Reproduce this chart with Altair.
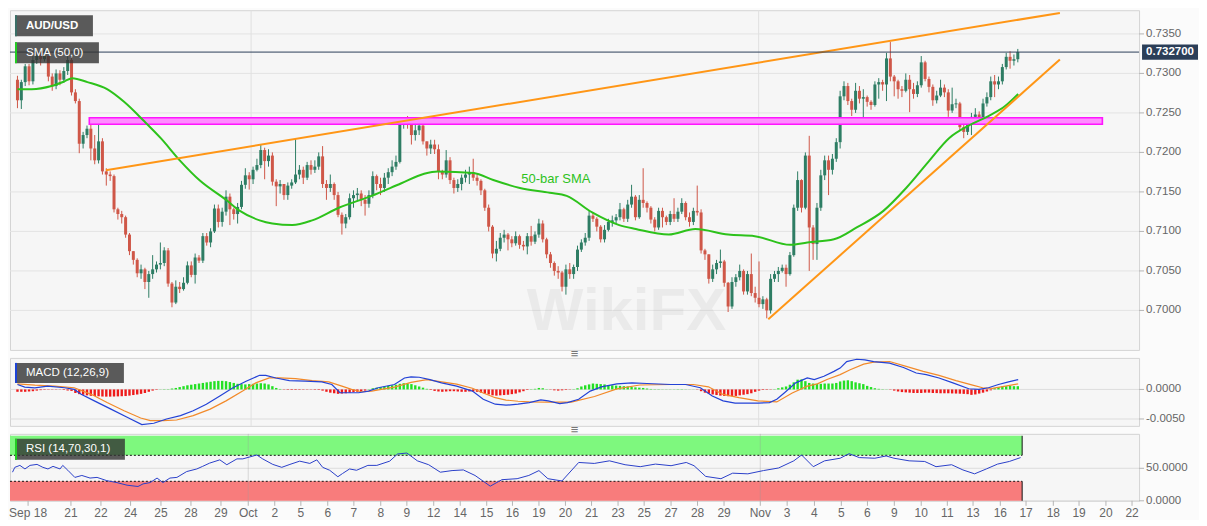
import altair as alt
import pandas as pd

# ---------------- data ----------------
OPEN0 = 0.7292
close = [
    0.7266, 0.7289, 0.7309, 0.7290, 0.7317, 0.7323, 0.7318, 0.7322, 0.7296, 0.7284,
    0.7300, 0.7292, 0.7303, 0.7317, 0.7276, 0.7265, 0.7211, 0.7222, 0.7230, 0.7205,
    0.7190, 0.7214, 0.7176, 0.7172, 0.7170, 0.7128, 0.7122, 0.7118, 0.7096, 0.7075,
    0.7064, 0.7047, 0.7052, 0.7036, 0.7046, 0.7052, 0.7058, 0.7060, 0.7076, 0.7034,
    0.7010, 0.7030, 0.7027, 0.7035, 0.7057, 0.7045, 0.7067, 0.7063, 0.7094, 0.7086,
    0.7100, 0.7129, 0.7112, 0.7125, 0.7144, 0.7128, 0.7122, 0.7131, 0.7159, 0.7171,
    0.7166, 0.7178, 0.7184, 0.7203, 0.7189, 0.7196, 0.7163, 0.7157, 0.7160, 0.7146,
    0.7158, 0.7162, 0.7172, 0.7178, 0.7168, 0.7184, 0.7178, 0.7182, 0.7195, 0.7160,
    0.7155, 0.7160, 0.7146, 0.7121, 0.7110, 0.7118, 0.7142, 0.7146, 0.7148, 0.7140,
    0.7135, 0.7146, 0.7170, 0.7160, 0.7155, 0.7168, 0.7175, 0.7182, 0.7188, 0.7238,
    0.7242, 0.7236, 0.7222, 0.7228, 0.7234, 0.7214, 0.7205, 0.7210, 0.7204, 0.7176,
    0.7172, 0.7190, 0.7165, 0.7155, 0.7160, 0.7168, 0.7172, 0.7175, 0.7168, 0.7164,
    0.7152, 0.7130, 0.7106, 0.7072, 0.7078, 0.7092, 0.7096, 0.7090, 0.7085, 0.7094,
    0.7083, 0.7081, 0.7094, 0.7087, 0.7096, 0.7110, 0.7090, 0.7071, 0.7060, 0.7050,
    0.7048, 0.7030, 0.7052, 0.7046, 0.7055, 0.7077, 0.7086, 0.7092, 0.7120, 0.7116,
    0.7106, 0.7090, 0.7102, 0.7112, 0.7114, 0.7118, 0.7128, 0.7116, 0.7134, 0.7144,
    0.7118, 0.7140, 0.7136, 0.7130, 0.7115, 0.7105, 0.7126, 0.7118, 0.7112, 0.7122,
    0.7116, 0.7125, 0.7136, 0.7118, 0.7112, 0.7126, 0.7124, 0.7076, 0.7071, 0.7040,
    0.7052, 0.7060, 0.7062, 0.7035, 0.7005, 0.7036, 0.7042, 0.7050, 0.7024, 0.7046,
    0.7022, 0.7016, 0.7008, 0.7014, 0.7000, 0.7040, 0.7046, 0.7050, 0.7054, 0.7046,
    0.7070, 0.7130, 0.7165, 0.7130, 0.7196, 0.7105, 0.7084, 0.7130, 0.7171, 0.7190,
    0.7178, 0.7192, 0.7213, 0.7271, 0.7284, 0.7265, 0.7254, 0.7278, 0.7268, 0.7270,
    0.7264, 0.7260, 0.7286, 0.7289, 0.7286, 0.7319, 0.7296, 0.7290, 0.7280, 0.7278,
    0.7292, 0.7280, 0.7274, 0.7285, 0.7314, 0.7293, 0.7283, 0.7266, 0.7272, 0.7282,
    0.7276, 0.7253, 0.7261, 0.7262, 0.7232, 0.7226, 0.7236, 0.7245, 0.7248, 0.7244,
    0.7262, 0.7270, 0.7290, 0.7286, 0.7290, 0.7308, 0.7321, 0.7316, 0.7318, 0.7327,
]
high = [
    0.7297, 0.7292, 0.7312, 0.7312, 0.7322, 0.7330, 0.7328, 0.7330, 0.7322, 0.7300,
    0.7305, 0.7304, 0.7308, 0.7322, 0.7320, 0.7280, 0.7268, 0.7226, 0.7234, 0.7238,
    0.7222, 0.7236, 0.7218, 0.7180, 0.7176, 0.7172, 0.7130, 0.7126, 0.7120, 0.7098,
    0.7074, 0.7066, 0.7058, 0.7054, 0.7050, 0.7070, 0.7062, 0.7086, 0.7080, 0.7079,
    0.7036, 0.7038, 0.7036, 0.7042, 0.7062, 0.7062, 0.7072, 0.7070, 0.7098, 0.7098,
    0.7104, 0.7134, 0.7134, 0.7130, 0.7152, 0.7148, 0.7130, 0.7136, 0.7164, 0.7180,
    0.7175, 0.7182, 0.7192, 0.7210, 0.7206, 0.7204, 0.7200, 0.7166, 0.7165, 0.7160,
    0.7162, 0.7166, 0.7217, 0.7184, 0.7182, 0.7188, 0.7190, 0.7190, 0.7200, 0.7208,
    0.7165, 0.7172, 0.7162, 0.7150, 0.7124, 0.7122, 0.7148, 0.7152, 0.7155, 0.7152,
    0.7146, 0.7152, 0.7176, 0.7172, 0.7168, 0.7174, 0.7180, 0.7190, 0.7196, 0.7242,
    0.7244, 0.7246, 0.7240, 0.7236, 0.7242, 0.7236, 0.7214, 0.7216, 0.7216, 0.7210,
    0.7178, 0.7203, 0.7194, 0.7168, 0.7166, 0.7172, 0.7178, 0.7182, 0.7192, 0.7172,
    0.7166, 0.7154, 0.7134, 0.7108, 0.7088, 0.7098, 0.7102, 0.7098, 0.7094, 0.7100,
    0.7096, 0.7088, 0.7098, 0.7107, 0.7100, 0.7116, 0.7114, 0.7092, 0.7074, 0.7062,
    0.7056, 0.7050, 0.7058, 0.7060, 0.7058, 0.7082, 0.7090, 0.7098, 0.7126, 0.7124,
    0.7118, 0.7108, 0.7108, 0.7116, 0.7120, 0.7122, 0.7136, 0.7130, 0.7140, 0.7159,
    0.7146, 0.7146, 0.7180, 0.7138, 0.7132, 0.7118, 0.7130, 0.7130, 0.7120, 0.7126,
    0.7142, 0.7130, 0.7142, 0.7138, 0.7124, 0.7130, 0.7158, 0.7128, 0.7078, 0.7068,
    0.7058, 0.7064, 0.7077, 0.7064, 0.7036, 0.7042, 0.7046, 0.7058, 0.7052, 0.7050,
    0.7072, 0.7030, 0.7062, 0.7018, 0.7016, 0.7046, 0.7050, 0.7055, 0.7058, 0.7058,
    0.7074, 0.7134, 0.7176, 0.7166, 0.7200, 0.7221, 0.7108, 0.7136, 0.7178, 0.7196,
    0.7196, 0.7198, 0.7218, 0.7278, 0.7290, 0.7288, 0.7268, 0.7288, 0.7284, 0.7280,
    0.7272, 0.7266, 0.7290, 0.7294, 0.7292, 0.7326, 0.7340, 0.7298, 0.7292, 0.7284,
    0.7300, 0.7298, 0.7288, 0.7290, 0.7322, 0.7316, 0.7296, 0.7286, 0.7278, 0.7292,
    0.7286, 0.7280, 0.7282, 0.7268, 0.7264, 0.7236, 0.7240, 0.7250, 0.7256, 0.7252,
    0.7268, 0.7276, 0.7296, 0.7298, 0.7296, 0.7312, 0.7326, 0.7328, 0.7324, 0.7331,
]
low = [
    0.7256, 0.7255, 0.7284, 0.7285, 0.7286, 0.7312, 0.7310, 0.7315, 0.7290, 0.7278,
    0.7280, 0.7285, 0.7288, 0.7298, 0.7272, 0.7262, 0.7199, 0.7205, 0.7218, 0.7190,
    0.7185, 0.7186, 0.7172, 0.7158, 0.7164, 0.7124, 0.7115, 0.7110, 0.7092, 0.7070,
    0.7058, 0.7042, 0.7040, 0.7027, 0.7016, 0.7040, 0.7048, 0.7052, 0.7056, 0.7030,
    0.7004, 0.7008, 0.7022, 0.7025, 0.7033, 0.7042, 0.7034, 0.7060, 0.7060, 0.7082,
    0.7080, 0.7098, 0.7105, 0.7106, 0.7120, 0.7108, 0.7115, 0.7110, 0.7128, 0.7154,
    0.7153, 0.7160, 0.7176, 0.7180, 0.7166, 0.7182, 0.7158, 0.7132, 0.7148, 0.7140,
    0.7140, 0.7154, 0.7160, 0.7166, 0.7160, 0.7165, 0.7172, 0.7174, 0.7178, 0.7155,
    0.7140, 0.7150, 0.7140, 0.7118, 0.7096, 0.7104, 0.7115, 0.7130, 0.7138, 0.7132,
    0.7120, 0.7130, 0.7142, 0.7152, 0.7146, 0.7150, 0.7160, 0.7170, 0.7178, 0.7186,
    0.7230, 0.7230, 0.7210, 0.7215, 0.7222, 0.7210, 0.7196, 0.7198, 0.7198, 0.7166,
    0.7166, 0.7168, 0.7160, 0.7148, 0.7150, 0.7152, 0.7162, 0.7160, 0.7164, 0.7158,
    0.7146, 0.7126, 0.7100, 0.7066, 0.7062, 0.7075, 0.7086, 0.7076, 0.7080, 0.7082,
    0.7078, 0.7076, 0.7071, 0.7082, 0.7084, 0.7092, 0.7086, 0.7066, 0.7054, 0.7044,
    0.7040, 0.7024, 0.7020, 0.7040, 0.7040, 0.7050, 0.7074, 0.7082, 0.7088, 0.7112,
    0.7100, 0.7086, 0.7086, 0.7100, 0.7106, 0.7110, 0.7114, 0.7112, 0.7112, 0.7130,
    0.7114, 0.7116, 0.7130, 0.7124, 0.7110, 0.7100, 0.7102, 0.7105, 0.7108, 0.7108,
    0.7112, 0.7112, 0.7122, 0.7114, 0.7106, 0.7108, 0.7120, 0.7072, 0.7064, 0.7034,
    0.7036, 0.7046, 0.7054, 0.7030, 0.6998, 0.7002, 0.7030, 0.7038, 0.7020, 0.7020,
    0.7018, 0.7010, 0.7004, 0.7002, 0.6990, 0.6996, 0.7036, 0.7036, 0.7048, 0.7030,
    0.7044, 0.7068, 0.7126, 0.7124, 0.7128, 0.7050, 0.7064, 0.7064, 0.7126, 0.7165,
    0.7146, 0.7172, 0.7188, 0.7205, 0.7266, 0.7260, 0.7246, 0.7250, 0.7262, 0.7240,
    0.7258, 0.7254, 0.7258, 0.7268, 0.7278, 0.7265, 0.7290, 0.7271, 0.7268, 0.7270,
    0.7276, 0.7251, 0.7268, 0.7270, 0.7282, 0.7290, 0.7276, 0.7259, 0.7262, 0.7270,
    0.7270, 0.7245, 0.7250, 0.7256, 0.7228, 0.7218, 0.7222, 0.7222, 0.7240, 0.7238,
    0.7240, 0.7258, 0.7266, 0.7270, 0.7280, 0.7286, 0.7305, 0.7306, 0.7310, 0.7314,
]

# 50-bar SMA (bar index, price)
sma_i = [0, 3.7, 8.8, 12.2, 14.2, 18.1, 23.2, 27.6, 32.7, 37.1, 42.2, 47.3, 54.0, 57.6, 62.7,
         66.0, 71.2, 76.3, 83.2, 91.7, 99.4, 105.3, 108.8, 118.1, 123.2, 130.1, 137.8, 142.2,
         148.8, 155.8, 160.1, 168.6, 175.5, 184.0, 190.9, 200.1, 204.5, 211.4, 217.3, 224.2,
         230.1, 236.0, 241.2, 246.3, 251.4, 255.8, 259.1]
sma_p = [0.7280, 0.7280, 0.7284, 0.7290, 0.7294, 0.7289, 0.7280, 0.7264, 0.7240, 0.7218,
         0.7189, 0.7164, 0.7140, 0.7126, 0.7114, 0.7110, 0.7108, 0.7114, 0.7130, 0.7145,
         0.7161, 0.7173, 0.7176, 0.7174, 0.7165, 0.7155, 0.7149, 0.7145, 0.7124, 0.7108,
         0.7103, 0.7096, 0.7103, 0.7096, 0.7094, 0.7083, 0.7086, 0.7090, 0.7105, 0.7126,
         0.7155, 0.7189, 0.7218, 0.7234, 0.7246, 0.7259, 0.7274]
sma_label = "50-bar SMA"
sma_label_i, sma_label_p = 139.4, 0.7166

# trend lines (start / end)
trend_name = ["resistance", "support"]
trend_i0 = [22.9, 194.4]
trend_p0 = [0.71775, 0.69888]
trend_i1 = [269.9, 269.9]
trend_p1 = [0.73766, 0.73175]

# horizontal zone
zone_i = [18.6, 280.9]
zone_p = [0.72356, 0.72438]

last_price = 0.7327
price_ticks = [0.7000, 0.7050, 0.7100, 0.7150, 0.7200, 0.7250, 0.7300, 0.7350]
macd_ticks = [0.0, -0.005]
rsi_ticks = [0.0, 50.0]

# MACD histogram per bar (x 1e-5)
hist_e5 = [
    -40, -40, -40, -35, -30, -20, -12, -8, -6, -5,
    -5, -4, -10, -18, -25, -60, -80, -90, -100, -108,
    -112, -116, -120, -122, -122, -120, -118, -115, -112, -105,
    -95, -85, -75, -60, -40, -20, -8, 3, 5, 5,
    15, 25, 40, 55, 70, 80, 90, 100, 110, 120,
    130, 140, 145, 145, 140, 125, 110, 95, 90, 85,
    90, 95, 100, 105, 100, 85, 55, 25, 8, -5,
    -8, -10, -10, -8, -6, -5, -5, -8, -10, -20,
    -40, -55, -65, -75, -70, -65, -55, -45, -40, -30,
    -20, 5, 20, 30, 40, 50, 60, 70, 80, 95,
    105, 100, 90, 70, 50, 30, 10, -10, -25, -35,
    -40, -35, -30, -30, -35, -40, -40, -35, -35, -40,
    -55, -70, -85, -100, -105, -100, -95, -90, -80, -70,
    -50, -30, -10, 5, 10, 25, 20, 5, -5, -15,
    -20, -15, -10, -5, 5, 20, 50, 70, 85, 100,
    95, 90, 85, 75, 70, 65, 60, 55, 50, 40,
    35, 30, 25, 15, 8, 5, 5, 3, 3, 3,
    3, 5, 5, 3, 2, 2, -5, -30, -55, -70,
    -85, -95, -105, -110, -115, -115, -110, -100, -90, -80,
    -65, -40, -20, -10, -8, -5, 5, 20, 35, 50,
    80, 120, 165, 170, 140, 110, 100, 95, 95, 100,
    100, 100, 110, 135, 150, 155, 140, 120, 105, 90,
    60, 40, 20, 10, 5, 3, -5, -20, -35, -45,
    -50, -55, -60, -60, -60, -55, -55, -60, -62, -65,
    -65, -65, -68, -70, -72, -75, -80, -92, -85, -70,
    -55, -35, -15, 20, 40, 50, 55, 58, 55, 55,
]
macd_i = [0, 1.9, 4.5, 7.8, 12.2, 14.7, 16.5, 19.9, 24.2, 28.4, 32.2, 35.3, 38.6, 42.2, 45.5,
          48.9, 52.4, 55.8, 59.2, 62.7, 64.3, 66.9, 70.4, 74.5, 78.8, 81.4, 83.5, 85.8, 88.3,
          90.9, 93.4, 97.6, 100.2, 101.9, 104, 106.8, 109.8, 113.7, 117.8, 120.6, 123.7, 126.5,
          129.6, 132.5, 135.5, 137.4, 140.4, 142.4, 145.3, 148.3, 151.2, 155.2, 159.1, 163,
          169.1, 173, 176.8, 179.9, 182.7, 185.8, 188.7, 191.7, 194.7, 196.6, 198.6, 201.5,
          204.5, 206.3, 208.8, 211.4, 213, 214.7, 217.3, 219.4, 221.7, 225.8, 229.4, 232.7,
          235.3, 238.6, 242.2, 246.3, 248.9, 251.4, 254, 256.6, 259.1]
macd_e5 = [83, 39, 28, 56, 28, 0, -83, -194, -333, -472, -594, -572, -500, -444, -361,
           -250, -111, 28, 139, 239, 239, 194, 150, 139, 128, 83, -56, -56, -56,
           -28, 28, 83, 194, 211, 206, 167, 111, 56, -28, -167, -250, -267,
           -250, -222, -178, -194, -239, -222, -167, -28, 44, 94, 111, 100,
           83, 83, 28, -111, -194, -233, -233, -233, -222, -167, -56, 111,
           194, 167, 222, 306, 361, 472, 511, 500, 472, 444, 372, 278,
           250, 194, 111, 11, 0, 28, 83, 128, 167]
sig_i = [0, 4.5, 9.6, 14.7, 19.1, 23.2, 27.6, 31.9, 34.4, 37.8, 41.2, 45.5, 49.9, 54, 58.3,
         61.7, 65.2, 67.8, 72, 76.3, 80.6, 84, 86.5, 89.1, 91.7, 94.2, 97.6, 101.9, 106,
         113.7, 117.8, 120.6, 123.7, 126.5, 129.6, 132.5, 137.4, 143.4, 149.4, 155.2, 161.1,
         169.1, 175, 178.9, 182.7, 186.8, 191.7, 196.6, 200.6, 204.5, 207.1, 209.6, 213,
         215.6, 219.1, 221.7, 225.8, 230.1, 234.5, 238.6, 243, 247.3, 249.9, 252.4, 255.8, 259.1]
sig_e5 = [94, 72, 56, 28, -83, -222, -361, -483, -528, -528, -517, -444, -333, -194, -28,
          111, 194, 194, 183, 150, 128, 56, 0, -39, -28, 0, 39, 120, 165,
          90, 20, -60, -140, -180, -200, -212, -215, -215, -120, 10, 75,
          83, 83, 44, -85, -140, -194, -211, -60, 56, 94, 167, 250,
          333, 428, 461, 472, 389, 306, 239, 150, 72, 28, 17, 56, 94]

# RSI
rsi_i = [0, 0.6, 1.9, 3.2, 4.5, 6.3, 7.8, 9.1, 10.4, 12.2, 12.9, 14.2, 16, 17.8, 19.9, 21.7,
         24.2, 26.8, 29.4, 32.2, 33.5, 35.3, 37.1, 38.6, 40.4, 42.2, 44.7, 47.3, 48.8, 50.6,
         53.2, 55, 57.6, 59.1, 62.7, 64.2, 66.8, 69.1, 71.2, 73.7, 76.3, 78.1, 79.6, 81.4,
         83.5, 84.7, 86.5, 88.3, 91.2, 93.5, 96.8, 98.8, 101.2, 103.9, 106.8, 109.8, 112.8,
         115.7, 118.7, 122.6, 125.6, 129.5, 132.5, 135.1, 137.4, 141, 145.3, 149.3, 153.2,
         157.2, 161.1, 165, 169, 172.9, 174.9, 177.9, 181.8, 184.8, 188.7, 192.7, 196.6,
         200.5, 202.5, 205.5, 208.4, 212.4, 214.7, 217.3, 221.3, 224.2, 226.2, 230.1, 234.1,
         237, 241, 243.9, 246.9, 249.9, 252.8, 255.8, 258.7]
rsi_v = [44, 51.5, 54.5, 49, 54.5, 56, 51.5, 49, 53, 49, 54.5, 47, 36, 39, 35, 36,
         31, 28, 24, 22, 26, 28, 35, 28, 35, 36, 45, 49, 53, 58,
         63, 55.5, 64.5, 64.5, 70.5, 64.5, 56, 51.5, 56, 61, 57.5, 63, 51.5, 47,
         37, 42, 49, 47, 54.5, 54.5, 61, 72, 73.5, 61.5, 55.5, 44, 46.5,
         47.5, 39, 22.5, 32.5, 34, 39, 46.5, 34, 30.5, 59, 57.5, 61.5,
         55.5, 52.5, 56.5, 54, 59, 54, 37.5, 34, 42.5, 41.5, 46.5, 50.5,
         61.5, 70.5, 52.5, 61.5, 65.5, 72.5, 66.5, 65.5, 69, 65.5, 61.5, 60.5,
         52.5, 55.5, 47.5, 41.5, 49, 56.5, 60.5, 66.5]

# x axis (bar index of each tick, label)
tick_pos = [4.0, 15.0, 22.7, 30.3, 38.1, 45.8, 53.5, 60.5, 67.3, 74.0, 80.9, 87.6, 94.5,
            101.2, 108.1, 114.9, 121.7, 128.3, 135.1, 141.9, 148.6, 155.4, 162.1, 169.0,
            175.8, 182.6, 191.9, 198.8, 205.8, 212.7, 219.4, 226.3, 233.2, 239.9, 246.5,
            253.5, 260.1, 267.1, 273.7, 280.6, 287.3]
tick_lab = ["Sep 18", "21", "22", "24", "25", "28", "29", "Oct", "2", "5", "6", "7", "8",
            "9", "12", "14", "15", "16", "19", "20", "21", "23", "25", "27", "28", "29",
            "Nov", "3", "4", "5", "6", "9", "10", "11", "13", "16", "17", "18", "19", "20", "22"]
month_pos = [60.5, 191.9]

# ---------------- styling ----------------
FONT = "Liberation Sans, Arial, sans-serif"
UP, DOWN = "#2e7d64", "#cf5748"
HIST_UP, HIST_DN = "#22e022", "#ee1b1b"
SMA_C = "#2dc21b"
TREND_C = "#ff9616"
NAVY = "#2b3e58"
BOX = "#333333"
LABEL_C = "#666666"
TICK_C = "#b5b5b5"
W = 1130
H_MAIN, H_MACD, H_RSI = 340, 68, 67
GAP = 8
XDOM = [-0.64, 289.1]
LAST_I = 259.1

xs = alt.Scale(domain=XDOM, nice=False, zero=False)


def X(f="i"):
    return alt.X(f"{f}:Q", scale=xs, axis=None)


def box(text, accent, x2, y1, y2, bold=False):
    d = alt.Chart(pd.DataFrame({"t": [text]}))
    bg = d.mark_rect(color=BOX, opacity=0.8).encode(
        x=alt.value(5), x2=alt.value(x2), y=alt.value(y1), y2=alt.value(y2))
    ac = d.mark_rect(color=accent).encode(
        x=alt.value(5), x2=alt.value(7), y=alt.value(y1), y2=alt.value(y2))
    tx = d.mark_text(align="left", baseline="middle", color="white", fontSize=11.5,
                     font=FONT, fontWeight="bold" if bold else "normal").encode(
        x=alt.value(16), y=alt.value((y1 + y2) / 2), text="t:N")
    return [bg, ac, tx]


def handle():
    return alt.Chart(pd.DataFrame({"t": ["\u2261"]})).mark_text(
        fontSize=13, color="#777777").encode(x=alt.value(565), y=alt.value(-4), text="t:N")


def y_guides(ticks, scale, fmt, grid_color):
    """grid lines, tick marks and labels of a right-hand value axis"""
    df = pd.DataFrame({"v": ticks, "t": [format(v, fmt) for v in ticks]})
    Y = alt.Y("v:Q", scale=scale, axis=None)
    grid = alt.Chart(df).mark_rule(color=grid_color, strokeWidth=1).encode(y=Y)
    ticks_m = alt.Chart(df).mark_rule(color=TICK_C, strokeWidth=1).encode(
        x=alt.value(W), x2=alt.value(W + 5), y=Y)
    labels = alt.Chart(df).mark_text(align="left", baseline="middle", color=LABEL_C,
                                     fontSize=11.5, font=FONT).encode(
        x=alt.value(W + 7), y=Y, text="t:N")
    return grid, [ticks_m, labels]


# ---------------- candle table ----------------
rows = []
prev = OPEN0
for k, (c, h, l) in enumerate(zip(close, high, low)):
    o = prev
    b0, b1 = min(o, c), max(o, c)
    if b1 - b0 < 0.00012:
        m = (b0 + b1) / 2
        b0, b1 = m - 0.00006, m + 0.00006
    rows.append({"i": k, "h": max(h, o, c), "l": min(l, o, c), "b0": b0, "b1": b1,
                 "col": UP if c >= o else DOWN})
    prev = c
cdf = pd.DataFrame(rows)

# ---------------- main panel ----------------
ps = alt.Scale(domain=[0.6950, 0.7380], nice=False, zero=False)


def PY(f):
    return alt.Y(f"{f}:Q", scale=ps, axis=None)


month_df = pd.DataFrame({"i": month_pos})
vlines = alt.Chart(month_df).mark_rule(color="#e0e0e0", strokeWidth=1).encode(x=X())
p_grid, p_axis = y_guides(price_ticks, ps, ".4f", "#e3e3e3")

wm = alt.Chart(pd.DataFrame({"t": ["WikiFX"]})).mark_text(
    fontSize=60, fontWeight="bold", color="#888888", opacity=0.1, font=FONT).encode(
    x=alt.value(617), y=alt.value(302), text="t:N")

wicks = alt.Chart(cdf).mark_rule(strokeWidth=1).encode(
    x=X(), y=PY("l"), y2="h", color=alt.Color("col:N", scale=None))
bodies = alt.Chart(cdf).mark_bar(size=3).encode(
    x=X(), y=PY("b0"), y2="b1", color=alt.Color("col:N", scale=None))

zone = alt.Chart(pd.DataFrame({"i0": [zone_i[0]], "i1": [zone_i[1]],
                               "p0": [zone_p[0]], "p1": [zone_p[1]]})).mark_rect(
    fill="#ff8cff", stroke="#ff14ff", strokeWidth=1.6).encode(
    x=X("i0"), x2="i1", y=PY("p0"), y2="p1")

sma = alt.Chart(pd.DataFrame({"i": sma_i, "p": sma_p})).mark_line(
    color=SMA_C, strokeWidth=2, interpolate="monotone").encode(x=X(), y=PY("p"))

tdf = pd.DataFrame({"name": trend_name * 2, "i": trend_i0 + trend_i1, "p": trend_p0 + trend_p1})
trend = alt.Chart(tdf).mark_line(color=TREND_C, strokeWidth=2).encode(
    x=X(), y=PY("p"), detail="name:N")

pline = alt.Chart(pd.DataFrame({"p": [last_price]})).mark_rule(
    color=NAVY, strokeWidth=1).encode(y=PY("p"))

smalab = alt.Chart(pd.DataFrame({"i": [sma_label_i], "p": [sma_label_p], "t": [sma_label]})).mark_text(
    color=SMA_C, fontSize=13, font=FONT).encode(x=X(), y=PY("p"), text="t:N")

TAG = "M-1,-0.27L1,-0.27L1,0.27L-1,0.27Z"
tag_df = pd.DataFrame({"p": [last_price], "t": [f"{last_price:.6f}"]})
tag = alt.Chart(tag_df).mark_point(shape=TAG, size=3136, filled=True, color=NAVY,
                                   opacity=1, strokeWidth=0).encode(x=alt.value(1161), y=PY("p"))
tagt = alt.Chart(tag_df).mark_text(color="white", fontSize=11.5, fontWeight="bold",
                                   font=FONT).encode(x=alt.value(1161), y=PY("p"), text="t:N")

main = alt.layer(
    p_grid, vlines, wm, wicks, bodies, zone, sma, trend, pline, smalab,
    *box("AUD/USD", "#3a6e66", 83, 5, 26, bold=True),
    *box("SMA (50,0)", "#22cc22", 89, 32, 53),
    *p_axis, tag, tagt,
).properties(width=W, height=H_MAIN)

# ---------------- MACD panel ----------------
ms = alt.Scale(domain=[-0.006167, 0.005333], nice=False, zero=False)
m_grid, m_axis = y_guides(macd_ticks, ms, ".4f", "#dddddd")
hdf = pd.DataFrame({"i": list(range(len(hist_e5))), "v": [h * 1e-5 for h in hist_e5]})
hdf["z"] = 0.0
hdf["col"] = [HIST_UP if v >= 0 else HIST_DN for v in hdf["v"]]

hist = alt.Chart(hdf).mark_bar(size=2.4).encode(
    x=X(), y=alt.Y("v:Q", scale=ms, axis=None), y2="z",
    color=alt.Color("col:N", scale=None))
mline = alt.Chart(pd.DataFrame({"i": macd_i, "v": [m * 1e-5 for m in macd_e5]})).mark_line(
    color="#2342d6", strokeWidth=1.2).encode(x=X(), y=alt.Y("v:Q", scale=ms, axis=None))
sline = alt.Chart(pd.DataFrame({"i": sig_i, "v": [s * 1e-5 for s in sig_e5]})).mark_line(
    color="#f28a2a", strokeWidth=1.2).encode(x=X(), y=alt.Y("v:Q", scale=ms, axis=None))
vl2 = alt.Chart(month_df).mark_rule(color="#e0e0e0", strokeWidth=1).encode(x=X())

macd = alt.layer(
    m_grid, vl2, hist, sline, mline,
    *box("MACD (12,26,9)", "#1d43d6", 114, 5, 25),
    *m_axis, handle(),
).properties(width=W, height=H_MACD)

# ---------------- RSI panel ----------------
rs = alt.Scale(domain=[0, 103], nice=False, zero=False)
r_grid, r_axis = y_guides(rsi_ticks, rs, ".4f", "#dddddd")

bands = alt.Chart(pd.DataFrame({"i0": [XDOM[0]] * 2, "i1": [LAST_I] * 2,
                                "v0": [70, 0], "v1": [100, 30],
                                "col": ["#7ef87e", "#f87c7c"]})).mark_rect().encode(
    x=X("i0"), x2="i1", y=alt.Y("v0:Q", scale=rs, axis=None), y2="v1",
    color=alt.Color("col:N", scale=None))
levels = alt.Chart(pd.DataFrame({"i0": [XDOM[0]] * 2, "i1": [LAST_I] * 2, "v": [70, 30]})).mark_rule(
    color="#111111", strokeWidth=1, strokeDash=[2, 2]).encode(
    x=X("i0"), x2="i1", y=alt.Y("v:Q", scale=rs, axis=None))
edges = alt.Chart(pd.DataFrame({"i": [LAST_I] * 2, "v0": [70, 0], "v1": [100, 30]})).mark_rule(
    color="#111111", strokeWidth=1).encode(
    x=X(), y=alt.Y("v0:Q", scale=rs, axis=None), y2="v1")
vl3 = alt.Chart(month_df).mark_rule(color="#999999", opacity=0.35, strokeWidth=1).encode(x=X())
rline = alt.Chart(pd.DataFrame({"i": rsi_i, "v": rsi_v})).mark_line(
    color="#2a3fc9", strokeWidth=1).encode(x=X(), y=alt.Y("v:Q", scale=rs, axis=None))

xt_df = pd.DataFrame({"i": tick_pos, "t": tick_lab})
x_ticks = alt.Chart(xt_df).mark_rule(color=TICK_C, strokeWidth=1).encode(
    x=X(), y=alt.value(H_RSI), y2=alt.value(H_RSI + 5))
x_labels = alt.Chart(xt_df).mark_text(baseline="middle", color=LABEL_C, fontSize=12,
                                      font=FONT).encode(
    x=X(), y=alt.value(H_RSI + 12), text="t:N")

rsi = alt.layer(
    r_grid, bands, levels, edges, vl3, rline,
    *box("RSI (14,70,30,1)", "#22cc22", 115, 5, 26),
    *r_axis, x_ticks, x_labels, handle(),
).properties(width=W, height=H_RSI)

chart = alt.vconcat(main, macd, rsi, spacing=GAP, bounds="flush").properties(
    padding=0, background="#fbfbfb"
).configure_view(stroke="#d4d4d4", fill="#f6f6f6", strokeWidth=1)

chart.save("out.html", embed_options={"renderer": "svg", "actions": False})
